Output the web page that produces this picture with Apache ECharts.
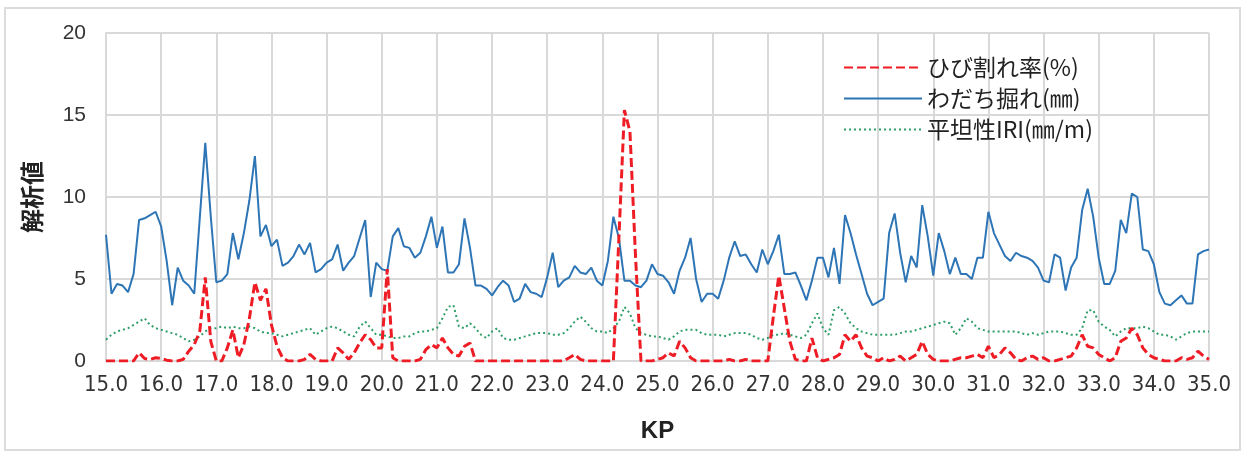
<!DOCTYPE html>
<html>
<head>
<meta charset="utf-8">
<script src="https://cdn.jsdelivr.net/npm/echarts@6/dist/echarts.min.js"></script>
<style>
html, body {margin: 0; padding: 0; background: #fff;}
#main {width: 1255px; height: 453px;}
</style>
</head>
<body>
<div id="main"></div>
<script>
// KP 15.0 - 35.0, every 0.1
var kp = [];
for (var i = 0; i <= 200; i++) kp.push((15 + i / 10).toFixed(1));

var crack = [
    0,0,0,0,0,0,0.5,0.15,0.1,0.2,
    0.15,0.05,0,0,0.1,0.6,1.0,1.8,5.1,1.2,
    0,0,0.8,1.9,0.2,1.0,2.6,4.8,3.7,4.4,
    2.2,0.9,0.2,0,0,0,0.1,0.4,0.1,0,
    0,0,0.8,0.5,0.1,0.5,1.1,1.6,1.3,0.8,
    0.8,5.6,0.2,0,0,0,0,0.1,0.7,1.0,
    0.8,1.4,0.8,0.4,0.3,0.9,1.1,0,0,0,
    0,0,0,0,0,0,0,0,0,0,
    0,0,0,0,0.2,0.4,0.1,0,0,0,
    0,0,0,7.5,15.3,14.0,6.5,0,0,0,
    0.1,0.2,0.5,0.3,1.2,0.8,0.2,0,0,0,
    0,0,0,0.1,0,0,0.1,0,0,0,
    0,2.7,5.2,3.2,1.2,0.1,0,0,1.4,0.2,
    0,0.1,0.2,0.4,1.6,1.2,1.6,0.8,0.3,0.2,
    0,0.2,0,0.1,0.3,0,0.2,0.4,1.2,0.4,
    0.1,0,0,0,0.1,0.2,0.2,0.3,0.4,0.2,
    0.9,0.2,0.4,0.8,0.5,0.1,0,0.2,0.3,0.1,
    0.2,0,0,0.1,0.2,0.3,0.8,1.6,0.9,0.8,
    0.4,0.2,0,0.2,1.2,1.4,2.0,1.6,0.8,0.4,
    0.2,0.1,0,0,0,0.2,0.1,0.2,0.6,0.3,
    0.1
];

var rut = [
    7.7,4.1,4.7,4.6,4.2,5.3,8.6,8.7,8.9,9.1,
    8.2,6.1,3.4,5.7,4.9,4.6,4.1,8.7,13.3,8.8,
    4.8,4.9,5.3,7.8,6.2,7.8,9.8,12.5,7.6,8.3,
    7.0,7.4,5.8,6.0,6.4,7.1,6.5,7.2,5.4,5.6,
    6.0,6.2,7.1,5.5,6.0,6.4,7.5,8.6,3.9,6.0,
    5.6,5.5,7.6,8.1,7.0,6.9,6.3,6.6,7.6,8.8,
    6.9,8.2,5.4,5.4,5.9,8.7,6.9,4.6,4.6,4.4,
    4.0,4.5,4.9,4.6,3.6,3.8,4.7,4.2,4.1,3.9,
    5.1,6.6,4.5,4.9,5.1,5.8,5.4,5.3,5.7,4.9,
    4.6,6.1,8.8,7.5,4.9,4.9,4.6,4.5,4.9,5.9,
    5.3,5.2,4.8,4.1,5.5,6.3,7.5,5.0,3.6,4.1,
    4.1,3.8,4.9,6.3,7.3,6.4,6.5,5.9,5.4,6.8,
    5.9,6.7,7.7,5.3,5.3,5.4,4.6,3.7,4.9,6.3,
    6.3,5.1,6.9,4.7,8.9,7.8,6.5,5.3,4.1,3.4,
    3.6,3.8,7.8,9.0,6.6,4.8,6.4,5.7,9.5,7.6,
    5.2,7.8,6.7,5.3,6.3,5.3,5.3,5.0,6.3,6.3,
    9.1,7.8,7.1,6.4,6.1,6.6,6.4,6.3,6.1,5.7,
    4.9,4.8,6.5,6.3,4.3,5.7,6.3,9.2,10.5,8.8,
    6.3,4.7,4.7,5.5,8.6,7.8,10.2,10.0,6.8,6.7,
    5.9,4.2,3.5,3.4,3.7,4.0,3.5,3.5,6.5,6.7,
    6.8
];

var iri = [
    1.3,1.6,1.8,1.9,2.0,2.2,2.4,2.6,2.2,2.0,
    1.9,1.8,1.7,1.6,1.4,1.2,1.3,1.5,1.8,2.0,
    2.0,2.1,2.0,2.1,2.0,2.0,2.1,2.0,1.8,1.7,
    1.7,1.6,1.5,1.6,1.7,1.8,1.9,2.0,1.6,1.8,
    2.0,2.1,2.0,1.8,1.6,1.5,2.1,2.4,2.0,1.6,
    1.6,1.5,1.4,1.4,1.5,1.5,1.7,1.8,1.8,1.9,
    2.0,2.6,3.3,3.4,2.1,2.0,2.3,2.0,1.6,1.4,
    1.8,2.0,1.4,1.3,1.3,1.4,1.5,1.6,1.7,1.7,
    1.7,1.6,1.6,1.7,2.0,2.4,2.7,2.4,2.0,1.8,
    1.8,1.7,2.0,2.4,3.3,2.9,2.0,1.7,1.6,1.5,
    1.5,1.4,1.3,1.5,1.8,1.9,1.9,1.9,1.7,1.6,
    1.6,1.6,1.5,1.6,1.7,1.7,1.7,1.6,1.4,1.3,
    1.4,1.6,1.6,1.7,1.6,1.5,1.4,1.6,2.3,2.9,
    2.0,1.6,3.1,3.3,2.9,2.3,2.0,1.8,1.7,1.6,
    1.6,1.6,1.6,1.6,1.7,1.8,1.8,1.9,2.0,2.1,
    2.2,2.3,2.4,2.3,1.6,2.0,2.6,2.4,2.0,1.9,
    1.8,1.8,1.8,1.8,1.8,1.8,1.7,1.6,1.7,1.6,
    1.7,1.8,1.8,1.8,1.7,1.6,1.6,2.0,3.1,3.1,
    2.4,2.1,1.9,1.5,1.8,2.0,2.0,2.0,2.1,2.0,
    1.8,1.6,1.6,1.5,1.3,1.5,1.7,1.8,1.8,1.8,
    1.8
];

var names = ['ひび割れ率(%)', 'わだち掘れ(㎜)', '平坦性IRI(㎜/m)'];
var yMin = 0, yMax = 20, yStep = 5;

showCharts();

function showCharts() {
    var myChart = echarts.init(document.getElementById('main'));
    var gridColor = '#d9d9d9';
    var option = {
        backgroundColor: '#fff',
        animation: false,
        graphic: [{
            type: 'rect',
            shape: {x: 5, y: 8, width: 1235, height: 442},
            style: {fill: 'none', stroke: '#dcdcdc', lineWidth: 2},
            silent: true
        }],
        legend: {
            orient: 'vertical',
            left: 838,
            top: 51,
            data: names,
            itemWidth: 78,
            itemHeight: 20,
            itemGap: 8,
            itemStyle: {opacity: 0},
            textStyle: {
                fontSize: 23,
                color: '#222',
                fontFamily: '"Noto Sans CJK JP", sans-serif'
            }
        },
        grid: {
            left: 106,
            right: 46,
            top: 33,
            bottom: 92
        },
        xAxis: {
            type: 'category',
            data: kp,
            boundaryGap: false,
            name: 'KP',
            nameLocation: 'middle',
            nameGap: 58,
            nameTextStyle: {
                fontSize: 24,
                fontWeight: 'bold',
                color: '#222',
                fontFamily: 'Arial, "Liberation Sans", sans-serif'
            },
            axisLine: {lineStyle: {color: gridColor, width: 2}},
            axisTick: {show: false},
            axisLabel: {
                interval: 9,
                margin: 13,
                fontSize: 22,
                color: '#333',
                fontFamily: '"Liberation Sans Narrow", "DejaVu Sans Condensed", Arial, sans-serif'
            },
            splitLine: {
                show: true,
                interval: 9,
                lineStyle: {color: gridColor, width: 2}
            }
        },
        yAxis: {
            type: 'value',
            min: yMin,
            max: yMax,
            interval: yStep,
            name: '解析値',
            nameLocation: 'middle',
            nameRotate: 90,
            nameGap: 62,
            nameTextStyle: {
                fontSize: 24,
                fontWeight: 'bold',
                color: '#222',
                fontFamily: '"Noto Sans CJK JP", sans-serif'
            },
            axisLine: {show: true, lineStyle: {color: gridColor, width: 2}},
            axisTick: {show: false},
            axisLabel: {
                margin: 20,
                fontSize: 21,
                color: '#333',
                fontFamily: 'Arial, "Liberation Sans", sans-serif'
            },
            splitLine: {lineStyle: {color: gridColor, width: 2}}
        },
        series: [
            {
                name: names[2],
                type: 'line',
                data: iri,
                symbol: 'none',
                lineStyle: {color: '#2f9e68', width: 2, type: [2, 3]},
                itemStyle: {color: '#2f9e68'}
            },
            {
                name: names[1],
                type: 'line',
                data: rut,
                symbol: 'none',
                lineStyle: {color: '#2e75b6', width: 2},
                itemStyle: {color: '#2e75b6'}
            },
            {
                name: names[0],
                type: 'line',
                data: crack,
                symbol: 'none',
                lineStyle: {color: '#ee1c25', width: 3, type: [9, 4]},
                itemStyle: {color: '#ee1c25'}
            }
        ]
    };
    myChart.setOption(option);
}
</script>
</body>
</html>
